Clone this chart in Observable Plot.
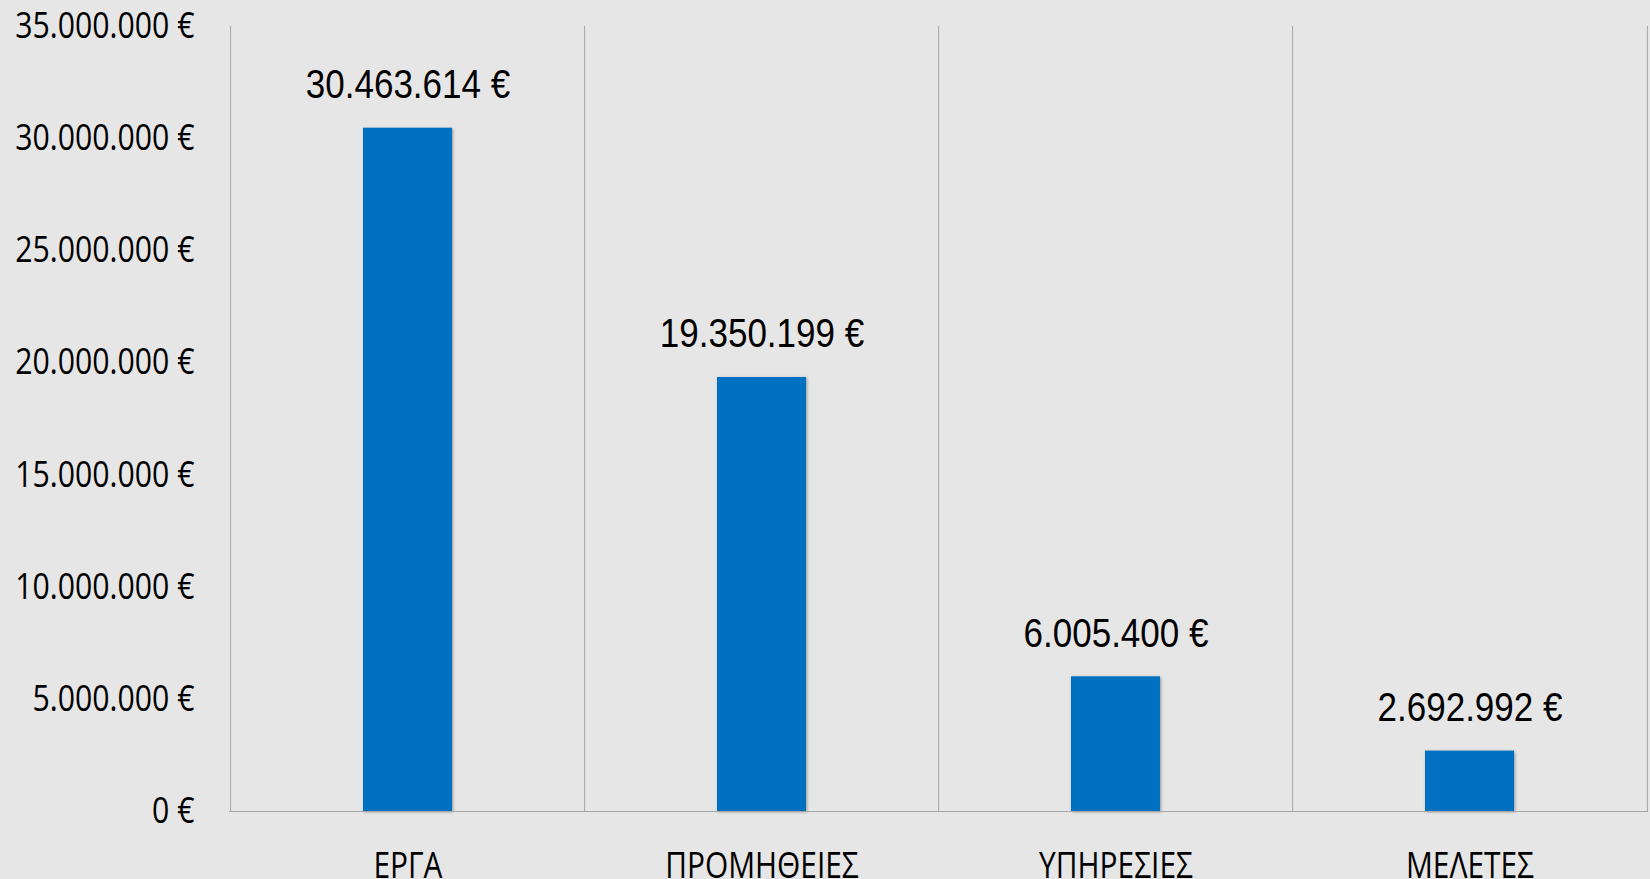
<!DOCTYPE html>
<html>
<head>
<meta charset="utf-8">
<script src="https://cdn.jsdelivr.net/npm/d3@7"></script>
<script src="https://cdn.jsdelivr.net/npm/@observablehq/plot@0.6"></script>
<style>
  html, body { margin: 0; padding: 0; background: #e7e6e6; overflow: hidden; }
  #chart svg { display: block; }
  #chart g[aria-label="bar"] rect { filter: drop-shadow(1px 1px 1.5px rgba(0,0,0,0.35)); }
</style>
</head>
<body>
<div id="chart"></div>
<script>
const categories = ["ΕΡΓΑ", "ΠΡΟΜΗΘΕΙΕΣ", "ΥΠΗΡΕΣΙΕΣ", "ΜΕΛΕΤΕΣ"];
const values = [30463614, 19350199, 6005400, 2692992];
const yTicks = [0, 5000000, 10000000, 15000000, 20000000, 25000000, 30000000, 35000000];

const data = categories.map((c, i) => ({cat: c, value: values[i]}));

const locale = d3.formatLocale({decimal: ",", thousands: ".", grouping: [3], currency: ["", " €"]});
const fmtNum = locale.format(",.0f");
const fmt = v => fmtNum(v) + " €";

const W = 1650, H = 879, mL = 229, mR = 2, mT = 26, mB = 68;
const half = (W - mL - mR) / categories.length / 2;
const gridColor = "#a6a6a6";
const axisFont = "'Open Sans', 'Liberation Sans', sans-serif";
const labelFont = "'Liberation Sans', Arial, sans-serif";

const chart = Plot.plot({
  width: W, height: H,
  marginTop: mT, marginBottom: mB, marginLeft: mL, marginRight: mR,
  style: {background: "#e7e6e6", fontFamily: labelFont, color: "#000", overflow: "visible"},
  x: {domain: categories, paddingInner: 0.75, paddingOuter: 0.375, label: null},
  y: {domain: [0, yTicks[yTicks.length - 1]], label: null},
  marks: [
    Plot.ruleX(categories, {x: d => d, dx: -half, y1: 0, y2: yTicks[yTicks.length - 1], stroke: gridColor, strokeWidth: 1}),
    Plot.ruleX([categories[categories.length - 1]], {x: d => d, dx: half, y1: 0, y2: yTicks[yTicks.length - 1], stroke: gridColor, strokeWidth: 1}),
    Plot.barY(data, {x: "cat", y: "value", fill: "#0070c0"}),
    Plot.ruleY([0], {stroke: gridColor, strokeWidth: 1.2}),
    Plot.text(data, {x: "cat", y: "value", text: d => fmt(d.value), dy: -43, fontSize: 40, fontFamily: labelFont, fill: "#000"}),
    Plot.axisY({ticks: yTicks, tickFormat: fmt, tickSize: 0, tickPadding: 35, fontSize: 36, fontFamily: axisFont, label: null}),
    Plot.axisX({tickSize: 0, tickPadding: 41, fontSize: 36, fontFamily: axisFont, label: null})
  ]
});
document.getElementById("chart").appendChild(chart);

// Condense glyphs horizontally around each text's anchor point (wrap in a scaling group)
function condense(selector, s) {
  chart.querySelectorAll(selector).forEach(el => {
    const xl = el.x && el.x.baseVal && el.x.baseVal.numberOfItems ? el.x.baseVal.getItem(0).value : 0;
    const yl = el.y && el.y.baseVal && el.y.baseVal.numberOfItems ? el.y.baseVal.getItem(0).value : 0;
    let a = 1, b = 0, c = 0, d = 1, e = 0, f = 0;
    const tl = el.transform && el.transform.baseVal;
    if (tl && tl.numberOfItems) {
      const m = tl.consolidate().matrix;
      a = m.a; b = m.b; c = m.c; d = m.d; e = m.e; f = m.f;
    }
    const ax = a * xl + c * yl + e;
    const ay = b * xl + d * yl + f;
    if (!isFinite(ax) || !isFinite(ay)) return;
    const g = document.createElementNS("http://www.w3.org/2000/svg", "g");
    g.setAttribute("transform", `translate(${ax},${ay}) scale(${s},1) translate(${-ax},${-ay})`);
    el.parentNode.insertBefore(g, el);
    g.appendChild(el);
  });
}
condense('g[aria-label="y-axis tick label"] text', 0.84);
condense('g[aria-label="x-axis tick label"] text', 0.83);
condense('g[aria-label="text"] text', 0.875);
</script>
</body>
</html>
